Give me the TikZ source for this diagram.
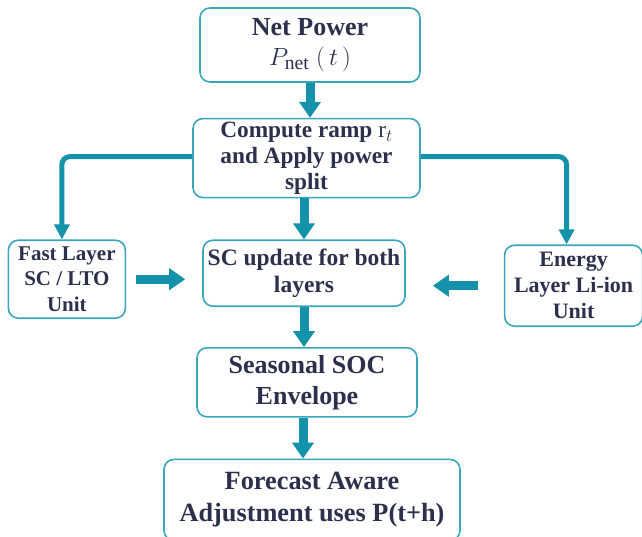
\documentclass[tikz,border=0pt]{standalone}
\usepackage{fontspec}
\setmainfont{Liberation Serif}
\usepackage{tikz}
\usetikzlibrary{arrows.meta}
\usetikzlibrary{positioning}
\definecolor{boxline}{RGB}{58,166,188}
\definecolor{flow}{RGB}{20,146,170}
\definecolor{ink}{RGB}{44,48,76}
\tikzstyle{box} = [rectangle, rounded corners=10pt, draw=boxline, line width=1.6pt,
fill=white, text=ink, align=center, inner sep=0pt]
\tikzstyle{arrow} = [draw=flow, line width=9pt, -{Triangle[width=21pt,length=16pt]}]
\tikzstyle{branch} = [draw=flow, line width=5pt, rounded corners=8pt,
-{Triangle[width=15pt,length=15pt]}]

\begin{document}
\begin{tikzpicture}[node distance=40pt]
  \useasboundingbox (0pt,0pt) rectangle (642pt,-536pt);

  % main column
  \node (net) [box, minimum width=220pt, minimum height=74pt,
    font=\fontsize{26}{33}\selectfont\bfseries] at (310pt,-45pt)
    {Net Power\\[-3pt]\mdseries\fontsize{28}{30}\selectfont$P_{\mathrm{net}}\;(\,t\,)$};
  \node (ramp) [box, below=35pt of net, xshift=-3.5pt, minimum width=227pt, minimum height=79pt,
    font=\fontsize{23.3}{26}\selectfont\bfseries]
    {Compute ramp $\mathrm{r}_t$\\and Apply power\\split};
  \node (sc) [box, below=41pt of ramp, xshift=-2.5pt, minimum width=202pt, minimum height=66pt,
    font=\fontsize{23.5}{27}\selectfont\bfseries]
    {SC update for both\\layers};
  \node (soc) [box, below=40pt of sc, xshift=3pt, minimum width=220pt, minimum height=69pt,
    font=\fontsize{26}{31}\selectfont\bfseries]
    {Seasonal SOC\\Envelope};
  \node (fcst) [box, below=41pt of soc, xshift=5pt, minimum width=296pt, minimum height=81pt,
    font=\fontsize{26.3}{32}\selectfont\bfseries]
    {Forecast Aware\\Adjustment uses P(t+h)};

  % side layers
  \node (fast) [box, left=76pt of sc, yshift=-6pt, minimum width=117pt, minimum height=78pt,
    font=\fontsize{21}{25.5}\selectfont\bfseries]
    {Fast Layer\\SC / LTO\\Unit};
  \node (liion) [box, right=98pt of sc, yshift=-12.5pt, minimum width=138pt, minimum height=81pt,
    font=\fontsize{22}{26}\selectfont\bfseries]
    {Energy\\Layer Li-ion\\Unit};

  \draw[arrow] (net.south) -- (net.south |- ramp.north);
  \draw[arrow] (sc.north |- ramp.south) -- (sc.north);
  \draw[arrow] (sc.south) -- (sc.south |- soc.north);
  \draw[arrow] ([xshift=-4pt]soc.south) -- ([xshift=-4pt]soc.south |- fcst.north);

  \draw[branch] ([yshift=1.5pt]ramp.west) -| ([xshift=-5pt]fast.north);
  \draw[branch] ([yshift=1.5pt]ramp.east) -| ([xshift=-7pt]liion.north);

  \draw[arrow] ([xshift=10pt]fast.east) -- ([xshift=-17pt]fast.east -| sc.west);
  \draw[arrow] ([xshift=-26pt]liion.west) -- ([xshift=27pt]liion.west -| sc.east);
\end{tikzpicture}
\end{document}
